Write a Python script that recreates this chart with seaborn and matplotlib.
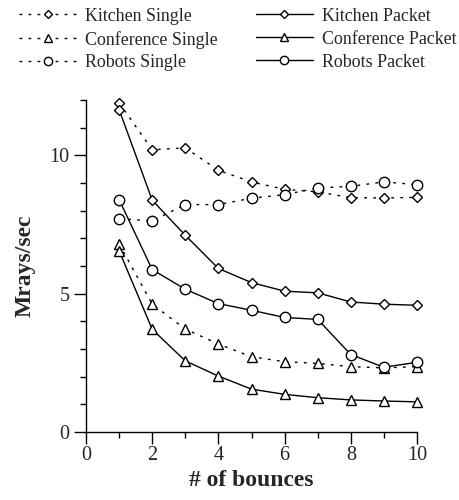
import matplotlib
matplotlib.use("Agg")
import matplotlib.pyplot as plt
import seaborn as sns
import pandas as pd
from matplotlib.ticker import MultipleLocator

sns.set_theme(style="white")
plt.rcParams['font.family'] = ['Liberation Serif', 'DejaVu Serif']

bounces = [1, 2, 3, 4, 5, 6, 7, 8, 9, 10]
kitchen_single = [11.9, 10.2, 10.27, 9.46, 9.04, 8.77, 8.68, 8.47, 8.46, 8.48]
conference_single = [6.8, 4.62, 3.72, 3.18, 2.72, 2.54, 2.48, 2.36, 2.32, 2.36]
robots_single = [7.71, 7.63, 8.22, 8.22, 8.45, 8.58, 8.82, 8.88, 9.04, 8.94]
kitchen_packet = [11.65, 8.38, 7.11, 5.91, 5.4, 5.09, 5.03, 4.7, 4.62, 4.58]
conference_packet = [6.55, 3.71, 2.57, 2.02, 1.55, 1.36, 1.24, 1.16, 1.12, 1.09]
robots_packet = [8.4, 5.87, 5.16, 4.64, 4.4, 4.14, 4.07, 2.8, 2.34, 2.52]

dotted = (0, (2, 4.5))
series = [
    ("Kitchen Single", kitchen_single, "D", dotted, 5.5),
    ("Conference Single", conference_single, "^", dotted, 7),
    ("Robots Single", robots_single, "o", dotted, 7.5),
    ("Kitchen Packet", kitchen_packet, "D", "-", 5.5),
    ("Conference Packet", conference_packet, "^", "-", 7),
    ("Robots Packet", robots_packet, "o", "-", 7.5),
]

fig = plt.figure(figsize=(4.6, 5.0), dpi=100)
ax = fig.add_axes([0.187, 0.136, 0.7195, 0.664])

for name, vals, mk, ls, ms in series:
    df = pd.DataFrame({"bounces": bounces, "value": vals})
    sns.lineplot(data=df, x="bounces", y="value", ax=ax, color="black",
                 marker=mk, linestyle=ls, linewidth=1.0, markersize=ms,
                 markerfacecolor="white", markeredgecolor="black",
                 markeredgewidth=1.0, label=name, clip_on=False, legend=False)

ax.set_xlim(0, 10)
ax.set_ylim(0, 12)
ax.xaxis.set_major_locator(MultipleLocator(2))
ax.xaxis.set_minor_locator(MultipleLocator(1))
ax.yaxis.set_major_locator(MultipleLocator(5))
ax.yaxis.set_minor_locator(MultipleLocator(1))
ax.tick_params(axis="both", which="major", direction="out", length=8.5, width=1,
               color="black", labelsize=14.5, pad=3.5, bottom=True, left=True)
ax.tick_params(axis="both", which="minor", direction="out", length=4.3, width=1,
               color="black", bottom=True, left=True)
ax.tick_params(axis="x", which="major", pad=1.5)
for s in ["top", "right"]:
    ax.spines[s].set_visible(False)
for s in ["left", "bottom"]:
    ax.spines[s].set_color("black")
    ax.spines[s].set_linewidth(1.0)

ax.set_xlabel("# of bounces", fontsize=17, fontweight="bold", labelpad=4)
ax.set_ylabel("Mrays/sec", fontsize=17, fontweight="bold", labelpad=10)

handles, labels = ax.get_legend_handles_labels()
fig.legend(handles, labels, ncol=2, loc="upper left", bbox_to_anchor=(0.018, 1.006),
           frameon=False, fontsize=12.9, handlelength=3.2, columnspacing=2.1,
           labelspacing=0.33, handletextpad=0.5, borderaxespad=0.2,
           markerscale=0.8)

fig.savefig("out.png", dpi=100, facecolor="white")
